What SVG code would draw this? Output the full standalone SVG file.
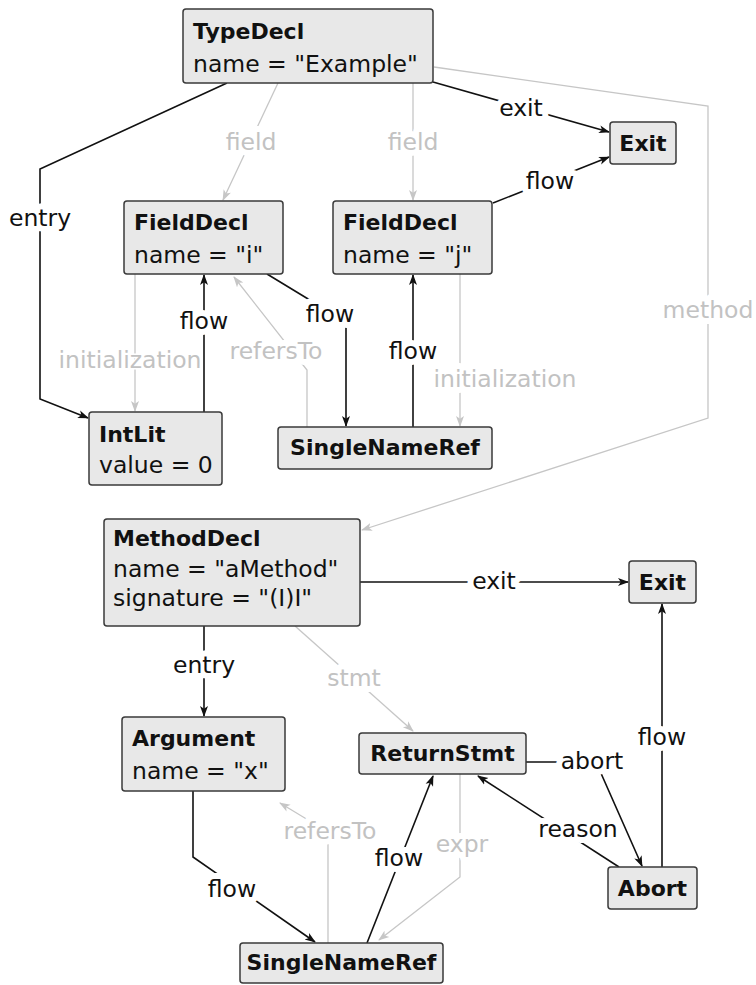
<svg xmlns="http://www.w3.org/2000/svg" width="756" height="985" viewBox="0 0 756 985">
<defs>
<marker id="ab" markerWidth="12" markerHeight="10" refX="10" refY="4.5" orient="auto" markerUnits="userSpaceOnUse">
<path d="M0,0.5 L11,4.5 L0,8.5 L2.8,4.5 z" fill="#111"/>
</marker>
<marker id="ag" markerWidth="12" markerHeight="10" refX="10" refY="4.5" orient="auto" markerUnits="userSpaceOnUse">
<path d="M0,0.5 L11,4.5 L0,8.5 L2.8,4.5 z" fill="#c6c6c6"/>
</marker>
</defs>
<style>
text{font-family:"DejaVu Sans","Liberation Sans",sans-serif;font-size:23.5px;fill:#111}
.t{font-weight:bold;font-size:22px}
.c{text-anchor:middle}
.box{fill:#e8e8e8;stroke:#3a3a3a;stroke-width:1.5}
.k{fill:none;stroke:#111;stroke-width:1.6;marker-end:url(#ab)}
.g{fill:none;stroke:#c6c6c6;stroke-width:1.3;marker-end:url(#ag)}
.lk{text-anchor:middle;stroke:#fff;stroke-width:12;paint-order:stroke;stroke-linejoin:round}
.lg{text-anchor:middle;fill:#c2c2c2;stroke:#fff;stroke-width:12;paint-order:stroke;stroke-linejoin:round}
.thin{stroke-width:3}
</style>
<g id="connectors">
<path class="k" d="M227,83 L40,169 L40,399 L88,418"/>
<text class="lk" x="40" y="226">entry</text>
<path class="g" d="M278,83 L223,200"/>
<text class="lg" x="251" y="150">field</text>
<path class="g" d="M413,83 L413,200"/>
<text class="lg" x="413" y="150">field</text>
<path class="k" d="M433,82 L609,132"/>
<text class="lk" x="521" y="116">exit</text>
<path class="k" d="M493,203 L609,157"/>
<text class="lk" x="550" y="189">flow</text>
<path class="g" d="M434,67 L708,106 L708,418 L362,530"/>
<text class="lg" x="708" y="318">method</text>
<path class="g" d="M135,274 L135,411"/>
<text class="lg thin" x="130" y="368">initialization</text>
<path class="k" d="M204,412 L204,275"/>
<text class="lk" x="204" y="329">flow</text>
<path class="k" d="M267,274 L346,322 L346,426"/>
<text class="lk" x="330" y="322">flow</text>
<path class="g" d="M307,427 L307,370 L234,277"/>
<text class="lg" x="276" y="359">refersTo</text>
<path class="k" d="M413,427 L413,275"/>
<text class="lk" x="413" y="359">flow</text>
<path class="g" d="M460,274 L460,426"/>
<text class="lg" x="505" y="387">initialization</text>
<path class="k" d="M360,582 L628,582"/>
<text class="lk" x="494" y="589">exit</text>
<path class="k" d="M204,626 L204,716"/>
<text class="lk" x="204" y="673">entry</text>
<path class="g" d="M295,626 L413,731"/>
<text class="lg" x="354" y="686">stmt</text>
<path class="k" d="M193,791 L193,857 L315,942"/>
<text class="lk" x="232" y="897">flow</text>
<path class="g" d="M328,943 L328,832 L280,803"/>
<text class="lg" x="330" y="839">refersTo</text>
<path class="k" d="M367,943 L433,776"/>
<text class="lk" x="399" y="866">flow</text>
<path class="g" d="M460,774 L460,877 L379,940"/>
<text class="lg" x="462" y="852">expr</text>
<path class="k" d="M526,762 L596,762 L642,866"/>
<text class="lk" x="592" y="769">abort</text>
<path class="k" d="M619,867 L478,776"/>
<text class="lk" x="578" y="837">reason</text>
<path class="k" d="M662,867 L662,604"/>
<text class="lk" x="662" y="745">flow</text>
</g>
<g id="TypeDecl">
<rect class="box" x="183" y="9" width="250" height="74" rx="3"/>
<text class="t" x="193" y="39">TypeDecl</text>
<text x="193" y="72">name = "Example"</text>
</g>
<g id="Exit1">
<rect class="box" x="610" y="122" width="66" height="42" rx="3"/>
<text class="t c" x="643" y="151">Exit</text>
</g>
<g id="FieldDecl_i">
<rect class="box" x="124" y="201" width="159" height="73" rx="3"/>
<text class="t" x="134" y="230">FieldDecl</text>
<text x="134" y="263">name = "i"</text>
</g>
<g id="FieldDecl_j">
<rect class="box" x="333" y="201" width="159" height="73" rx="3"/>
<text class="t" x="343" y="230">FieldDecl</text>
<text x="343" y="263">name = "j"</text>
</g>
<g id="IntLit">
<rect class="box" x="89" y="412" width="133" height="73" rx="3"/>
<text class="t" x="99" y="442">IntLit</text>
<text x="99" y="473">value = 0</text>
</g>
<g id="SingleNameRef1">
<rect class="box" x="278" y="427" width="214" height="42" rx="3"/>
<text class="t c" x="385" y="455">SingleNameRef</text>
</g>
<g id="MethodDecl">
<rect class="box" x="104" y="519" width="256" height="107" rx="3"/>
<text class="t" x="113" y="546">MethodDecl</text>
<text x="113" y="577">name = "aMethod"</text>
<text x="113" y="606">signature = "(I)I"</text>
</g>
<g id="Exit2">
<rect class="box" x="629" y="561" width="67" height="42" rx="3"/>
<text class="t c" x="662.5" y="590">Exit</text>
</g>
<g id="Argument">
<rect class="box" x="122" y="717" width="163" height="74" rx="3"/>
<text class="t" x="132" y="746">Argument</text>
<text x="132" y="779">name = "x"</text>
</g>
<g id="ReturnStmt">
<rect class="box" x="359" y="733" width="167" height="41" rx="3"/>
<text class="t c" x="442.5" y="761">ReturnStmt</text>
</g>
<g id="Abort">
<rect class="box" x="608" y="867" width="89" height="42" rx="3"/>
<text class="t c" x="652.5" y="896">Abort</text>
</g>
<g id="SingleNameRef2">
<rect class="box" x="240" y="943" width="203" height="40" rx="3"/>
<text class="t c" x="341.5" y="970">SingleNameRef</text>
</g>
</svg>
